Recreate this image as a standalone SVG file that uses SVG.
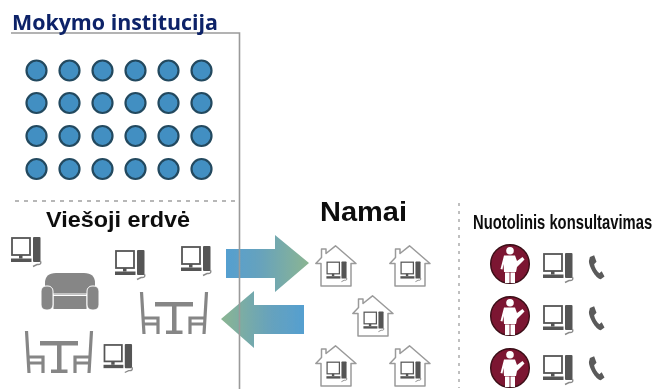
<svg xmlns="http://www.w3.org/2000/svg" width="654" height="389" viewBox="0 0 654 389">
<style>
.dot{fill:#438fc2;stroke:#24495f;stroke-width:2.2}
.frame{fill:none;stroke:#9a9a9a;stroke-width:1.6}
.lbl{font-family:"Liberation Sans",Arial,sans-serif;font-weight:700;fill:#111}
.fur{fill:none;stroke:#868686;stroke-width:3.2}
</style>
<defs>
<filter id="soft" x="0" y="0" width="100%" height="100%"><feGaussianBlur stdDeviation="0.45"/></filter>
<linearGradient id="gr" x1="0" x2="1" y1="0" y2="0"><stop offset="0" stop-color="#559fd0"/><stop offset="0.4" stop-color="#66a2bd"/><stop offset="1" stop-color="#8bb592"/></linearGradient>
<linearGradient id="gl" x1="0" x2="1" y1="0" y2="0"><stop offset="0" stop-color="#8bb592"/><stop offset="0.6" stop-color="#66a2bd"/><stop offset="1" stop-color="#559fd0"/></linearGradient>
<symbol id="pc" viewBox="0 0 31 30" overflow="visible">
<rect x="1" y="1" width="18" height="17" fill="#fff" stroke="#555" stroke-width="1.8"/>
<rect x="8" y="18" width="3.5" height="3.5" fill="#555"/>
<rect x="0" y="21.500" width="20.500" height="3.500" fill="#555"/>
<rect x="22" y="0" width="7.500" height="25" rx="1" fill="#555"/>
<path d="M29.500 24Q31 28 26 27.500L22 29.500" fill="none" stroke="#8a8a8a" stroke-width="1.400"/>
</symbol>
<symbol id="house" viewBox="0 0 42 42" overflow="visible">
<path d="M20.500 0.800L41 18.500H36V41H6V18.500H0.800L6.500 12.500V4H11V8.500Z" fill="#fff" stroke="#9a9a9a" stroke-width="1.500" stroke-linejoin="round"/>
<use href="#pc" x="11" y="16.500" width="22" height="20.500"/>
</symbol>
<symbol id="table" viewBox="0 0 68 42" overflow="visible">
<g class="fur">
<path d="M1.500 0L4 42M4 26H18V42M4 32H18"/>
<path d="M66.500 0L64 42M64 26H50V42M64 32H50"/>
</g>
<rect x="15" y="10" width="38" height="4.500" fill="#868686"/>
<rect x="32" y="14" width="4.500" height="25" fill="#868686"/>
<rect x="26" y="38.500" width="16.500" height="3.500" fill="#868686"/>
</symbol>
<symbol id="phone" viewBox="0 0 18 26" overflow="visible">
<path d="M2 2L6.500 0L9 7L6.500 9.500C7 13 9.500 17 12 19L14.500 17L17.500 22.500L13.500 25.500C8 24.500 1 12 1 6Z" fill="#5a5a5a"/>
</symbol>
<symbol id="person" viewBox="0 0 40 40" overflow="visible">
<circle cx="20" cy="20" r="19.300" fill="#7c1730" stroke="#3a0e18" stroke-width="1.400"/>
<circle cx="20" cy="6.800" r="3.800" fill="#fff"/>
<path d="M14 11.500H25L27 17L32.500 13L34.500 15.500L27 23L26 28H14L13.500 20L12.500 25.500L10.500 25Z" fill="#fff"/>
<path d="M15 28.500H19.500V39H15ZM20.500 28.500H25V39H20.500Z" fill="#fff"/>
</symbol>
</defs>

<g filter="url(#soft)">
<g id="connectors">
<path d="M226 249H275V235L309 263L275 292V278H226Z" fill="url(#gr)"/>
<path d="M304 305H254V291L221 319L254 348V334H304Z" fill="url(#gl)"/>
<path class="frame" d="M11 33H239.500V389"/>
<path d="M15 201H239" fill="none" stroke="#a0a0a0" stroke-width="1.500" stroke-dasharray="4 5"/>
<path d="M459 203V388" fill="none" stroke="#b0b0b0" stroke-width="1.600" stroke-dasharray="3 5"/>
</g>

<g id="title"><text x="12" y="30" font-family="'Open Sans','Liberation Sans',sans-serif" font-weight="700" font-size="22" fill="#0b2468" textLength="206" lengthAdjust="spacingAndGlyphs">Mokymo institucija</text></g>

<g id="classroom">
<circle class="dot" cx="36.500" cy="70.500" r="10"/><circle class="dot" cx="69.500" cy="70.500" r="10"/><circle class="dot" cx="102.500" cy="70.500" r="10"/><circle class="dot" cx="135.500" cy="70.500" r="10"/><circle class="dot" cx="168.500" cy="70.500" r="10"/><circle class="dot" cx="201.500" cy="70.500" r="10"/>
<circle class="dot" cx="36.500" cy="103" r="10"/><circle class="dot" cx="69.500" cy="103" r="10"/><circle class="dot" cx="102.500" cy="103" r="10"/><circle class="dot" cx="135.500" cy="103" r="10"/><circle class="dot" cx="168.500" cy="103" r="10"/><circle class="dot" cx="201.500" cy="103" r="10"/>
<circle class="dot" cx="36.500" cy="136" r="10"/><circle class="dot" cx="69.500" cy="136" r="10"/><circle class="dot" cx="102.500" cy="136" r="10"/><circle class="dot" cx="135.500" cy="136" r="10"/><circle class="dot" cx="168.500" cy="136" r="10"/><circle class="dot" cx="201.500" cy="136" r="10"/>
<circle class="dot" cx="36.500" cy="169" r="10"/><circle class="dot" cx="69.500" cy="169" r="10"/><circle class="dot" cx="102.500" cy="169" r="10"/><circle class="dot" cx="135.500" cy="169" r="10"/><circle class="dot" cx="168.500" cy="169" r="10"/><circle class="dot" cx="201.500" cy="169" r="10"/>
</g>

<g id="public-space">
<text class="lbl" x="46" y="227" font-size="22" textLength="144" lengthAdjust="spacingAndGlyphs">Viešoji erdvė</text>
<use href="#pc" x="11" y="237" width="31" height="30"/>
<use href="#pc" x="115" y="250" width="31" height="30"/>
<use href="#pc" x="181" y="246" width="31" height="30"/>
<use href="#pc" x="103" y="344" width="31" height="29"/>
<g id="sofa" fill="#868686" stroke="#fff" stroke-width="1">
<path d="M45 295V283Q45 273 56 273H84Q95 273 95 283V295Z" stroke="none"/>
<rect x="53" y="294" width="34" height="8"/>
<rect x="53" y="295.500" width="34" height="14"/>
<rect x="41" y="286" width="12" height="24" rx="5"/>
<rect x="87" y="286" width="12" height="24" rx="5"/>
</g>
<use href="#table" x="140" y="292" width="68" height="42"/>
<use href="#table" x="25" y="331" width="68" height="42"/>
</g>

<g id="homes">
<text class="lbl" x="320" y="221" font-size="28" textLength="87" lengthAdjust="spacingAndGlyphs">Namai</text>
<use href="#house" x="315" y="245" width="42" height="42"/>
<use href="#house" x="389" y="245" width="42" height="42"/>
<use href="#house" x="352" y="295" width="42" height="42"/>
<use href="#house" x="315" y="345" width="42" height="42"/>
<use href="#house" x="389" y="345" width="42" height="42"/>
</g>

<g id="remote">
<text class="lbl" transform="translate(473 229) scale(0.74 1)" font-size="20">Nuotolinis konsultavimas</text>
<use href="#person" x="490" y="244" width="40" height="40"/>
<use href="#person" x="490" y="296" width="40" height="40"/>
<use href="#person" x="490" y="348" width="40" height="40"/>
<use href="#pc" x="543" y="253" width="31" height="30"/>
<use href="#pc" x="543" y="305" width="31" height="30"/>
<use href="#pc" x="543" y="355" width="31" height="30"/>
<use href="#phone" x="588" y="255" width="17" height="25"/>
<use href="#phone" x="588" y="306" width="17" height="25"/>
<use href="#phone" x="588" y="356" width="17" height="25"/>
</g>
</g>
</svg>
